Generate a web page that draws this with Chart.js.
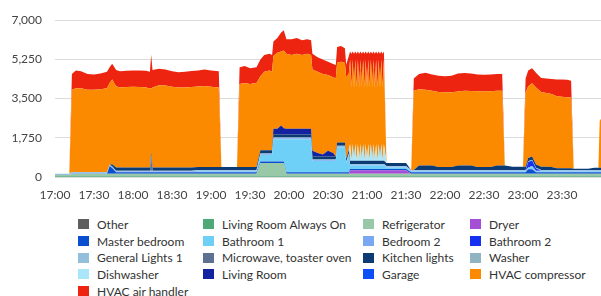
<!DOCTYPE html>
<html>
<head>
<meta charset="utf-8">
<script src="https://cdn.jsdelivr.net/npm/chart.js@4"></script>
<style>
  body { margin: 0; background: #fff; font-family: Lato, "Open Sans", sans-serif; }
  #wrap { position: relative; width: 601px; height: 296px; overflow: hidden; }
  #chartBox { position: absolute; left: 0; top: 0; width: 601px; height: 210px; }
  #legend { position: absolute; left: 78px; top: 216px; display: grid;
            grid-template-columns: 125px 160px 107px 120px; grid-auto-rows: 16.7px;
            font-size: 12px; color: #333; }
  #legend div { display: flex; align-items: center; white-space: nowrap; }
  #legend span.sw { display: inline-block; width: 11px; height: 10px; margin-right: 8px; }
  #warn { position: absolute; left: 200px; top: 100px; color: red; font-size: 20px; }
</style>
</head>
<body>
<div id="wrap">
  <div id="chartBox"><canvas id="myChart"></canvas></div>
  <div id="legend"></div>
  <div id="warn"></div>
</div>
<script>
// minutes after 17:00
const times = [
  0, 5, 11,
  13, 16, 20, 25, 30, 35, 40, 42, 44, 47, 50, 55, 60, 65, 70, 73, 74, 75, 80, 85, 90, 95, 100, 105, 110, 115, 120, 126,
  128, 134, 140,
  142, 146, 150, 155, 158, 161, 165, 167, 168, 171, 174, 176, 178, 182, 186, 190, 194, 197, 198, 202, 206, 210, 214, 216, 217, 220, 223, 224, 226,
  227, 228, 229, 230, 231, 232, 233, 234, 235, 236, 237, 238, 239, 240, 241, 242, 243, 244, 245, 246, 247, 248, 249, 250, 251, 252, 253,
  255, 260, 265, 270, 274,
  276, 280, 285, 290, 295, 300, 305, 310, 315, 320, 325, 330, 335, 340, 344,
  346, 352, 360,
  362, 364, 367, 370, 374, 378, 382, 386, 390, 394, 397,
  399, 405, 410, 415, 418, 419, 420
];

const tickMins = [0, 30, 60, 90, 120, 150, 180, 210, 240, 270, 300, 330, 360, 390];
const tickLabels = ['17:00', '17:30', '18:00', '18:30', '19:00', '19:30', '20:00', '20:30', '21:00', '21:30', '22:00', '22:30', '23:00', '23:30'];

const other = [
  0, 0, 0,
  0, 0, 0, 0, 0, 0, 0, 0, 0, 0, 0, 0, 0, 0, 0, 0, 0, 0, 0, 0, 0, 0, 0, 0, 0, 0, 0, 0,
  0, 0, 0,
  0, 0, 0, 0, 0, 0, 0, 0, 0, 0, 0, 0, 0, 0, 0, 0, 0, 0, 0, 0, 0, 0, 0, 0, 0, 0, 0, 0, 0,
  0, 0, 0, 0, 0, 0, 0, 0, 0, 0, 0, 0, 0, 0, 0, 0, 0, 0, 0, 0, 0, 0, 0, 0, 0, 0, 0,
  0, 0, 0, 0, 0,
  0, 0, 0, 0, 0, 0, 0, 0, 0, 0, 0, 0, 0, 0, 0,
  0, 0, 0,
  0, 0, 0, 0, 0, 0, 0, 0, 0, 0, 0,
  0, 0, 0, 0, 0, 0, 0
];
const livingAlwaysOn = [
  30, 30, 30,
  30, 30, 30, 30, 30, 30, 30, 30, 30, 30, 30, 30, 30, 30, 30, 30, 30, 30, 30, 30, 30, 30, 30, 30, 30, 30, 30, 30,
  30, 30, 30,
  30, 30, 30, 30, 30, 30, 30, 30, 30, 30, 30, 30, 30, 30, 30, 30, 30, 30, 30, 30, 30, 30, 30, 30, 30, 30, 30, 30, 30,
  30, 30, 30, 30, 30, 30, 30, 30, 30, 30, 30, 30, 30, 30, 30, 30, 30, 30, 30, 30, 30, 30, 30, 30, 30, 30, 30,
  30, 30, 30, 30, 30,
  30, 30, 30, 30, 30, 30, 30, 30, 30, 30, 30, 30, 30, 30, 30,
  30, 30, 30,
  30, 30, 30, 30, 30, 30, 30, 30, 30, 30, 30,
  30, 30, 30, 30, 30, 30, 30
];
const refrigerator = [
  60, 60, 60,
  120, 120, 120, 120, 120, 120, 120, 120, 120, 120, 120, 120, 120, 120, 120, 120, 120, 120, 120, 120, 120, 120, 120, 120, 120, 120, 120, 120,
  120, 120, 120,
  120, 120, 120, 120, 600, 600, 600, 600, 600, 600, 600, 600, 120, 120, 120, 120, 120, 120, 120, 120, 120, 120, 120, 120, 120, 120, 120, 120, 120,
  120, 120, 120, 120, 120, 120, 120, 120, 120, 120, 120, 120, 120, 120, 120, 120, 120, 120, 120, 120, 120, 120, 120, 120, 120, 120, 120,
  120, 120, 120, 120, 120,
  120, 120, 120, 120, 120, 120, 120, 120, 120, 120, 120, 120, 120, 120, 120,
  120, 120, 120,
  120, 120, 120, 120, 120, 120, 120, 120, 120, 120, 120,
  120, 120, 120, 120, 120, 120, 120
];
const dryer = [
  0, 0, 0,
  0, 0, 0, 0, 0, 0, 0, 0, 0, 0, 0, 0, 0, 0, 0, 0, 0, 0, 0, 0, 0, 0, 0, 0, 0, 0, 0, 0,
  0, 0, 0,
  0, 0, 0, 0, 0, 0, 0, 0, 0, 0, 0, 0, 0, 0, 0, 0, 0, 0, 0, 0, 0, 0, 0, 0, 0, 0, 0, 0, 0,
  150, 150, 150, 150, 150, 150, 150, 150, 150, 150, 150, 150, 150, 150, 150, 150, 150, 150, 150, 150, 150, 150, 150, 150, 150, 150, 150,
  150, 150, 150, 150, 0,
  0, 0, 0, 0, 0, 0, 0, 0, 0, 0, 0, 0, 0, 0, 0,
  0, 0, 0,
  0, 0, 0, 0, 0, 0, 0, 0, 0, 0, 0,
  0, 0, 0, 0, 0, 0, 0
];
const masterBedroom = [
  0, 0, 0,
  0, 0, 0, 0, 0, 0, 0, 330, 250, 60, 60, 60, 60, 60, 60, 60, 60, 60, 60, 60, 60, 60, 60, 60, 60, 60, 60, 60,
  60, 60, 60,
  60, 60, 60, 60, 60, 60, 60, 60, 60, 60, 60, 60, 60, 60, 60, 60, 60, 60, 60, 60, 60, 60, 60, 60, 60, 60, 60, 60, 60,
  60, 60, 60, 60, 60, 60, 60, 60, 60, 60, 60, 60, 60, 60, 60, 60, 60, 60, 60, 60, 60, 60, 60, 60, 60, 60, 60,
  60, 60, 60, 60, 60,
  60, 60, 60, 60, 60, 60, 60, 60, 60, 60, 60, 60, 60, 60, 60,
  60, 60, 60,
  60, 200, 200, 60, 60, 60, 60, 60, 60, 60, 60,
  60, 60, 60, 60, 60, 60, 60
];
const bathroom1 = [
  0, 0, 0,
  0, 0, 0, 0, 0, 0, 0, 0, 0, 0, 0, 0, 0, 0, 0, 0, 0, 0, 0, 0, 0, 0, 0, 0, 30, 30, 30, 30,
  30, 30, 30,
  30, 30, 30, 30, 290, 290, 290, 290, 1000, 1000, 1000, 1000, 1480, 1480, 1480, 1480, 1480, 1480, 500, 500, 500, 500, 500, 500, 1120, 1120, 1120, 400, 770,
  150, 150, 150, 150, 150, 150, 150, 150, 150, 150, 150, 150, 150, 150, 150, 150, 150, 150, 150, 150, 150, 150, 150, 150, 150, 150, 150,
  60, 60, 60, 60, 30,
  30, 30, 30, 30, 30, 30, 30, 30, 30, 30, 30, 30, 30, 30, 30,
  30, 30, 30,
  30, 30, 100, 30, 30, 30, 30, 30, 30, 30, 30,
  30, 30, 30, 30, 30, 30, 30
];
const bedroom2 = [
  0, 0, 0,
  40, 40, 40, 40, 40, 40, 40, 40, 40, 40, 40, 40, 40, 40, 40, 40, 40, 40, 40, 40, 40, 40, 40, 40, 40, 40, 40, 40,
  40, 40, 40,
  40, 40, 40, 40, 40, 40, 40, 40, 40, 40, 40, 40, 40, 40, 40, 40, 40, 40, 40, 40, 40, 40, 40, 40, 40, 40, 40, 40, 40,
  40, 40, 40, 40, 40, 40, 40, 40, 40, 40, 40, 40, 40, 40, 40, 40, 40, 40, 40, 40, 40, 40, 40, 40, 40, 40, 40,
  40, 40, 40, 40, 40,
  40, 40, 40, 40, 40, 40, 40, 40, 40, 40, 40, 40, 40, 40, 40,
  40, 40, 40,
  40, 40, 40, 40, 40, 40, 40, 40, 40, 40, 40,
  40, 40, 40, 40, 40, 40, 40
];
const bathroom2 = [
  0, 0, 0,
  0, 0, 0, 0, 0, 0, 0, 0, 0, 0, 0, 0, 0, 0, 0, 0, 0, 0, 0, 0, 0, 0, 0, 0, 0, 0, 0, 0,
  0, 0, 0,
  0, 0, 0, 0, 0, 0, 0, 0, 0, 0, 0, 0, 0, 0, 0, 0, 0, 0, 0, 0, 0, 0, 0, 0, 0, 0, 0, 0, 0,
  0, 0, 0, 0, 0, 0, 0, 0, 0, 0, 0, 0, 0, 0, 0, 0, 0, 0, 0, 0, 0, 0, 0, 0, 0, 0, 0,
  0, 0, 0, 0, 0,
  0, 0, 0, 0, 0, 0, 0, 0, 0, 0, 0, 0, 0, 0, 0,
  0, 0, 0,
  0, 250, 250, 100, 0, 0, 0, 0, 0, 0, 0,
  0, 0, 0, 0, 0, 0, 0
];
const generalLights1 = [
  60, 60, 60,
  30, 30, 30, 30, 30, 30, 30, 30, 30, 30, 30, 30, 30, 30, 30, 30, 30, 30, 30, 30, 30, 30, 30, 30, 30, 30, 30, 30,
  30, 30, 30,
  30, 30, 30, 30, 30, 30, 30, 30, 30, 30, 30, 30, 30, 30, 30, 30, 30, 30, 30, 30, 30, 30, 30, 30, 30, 30, 30, 30, 30,
  30, 30, 30, 30, 30, 30, 30, 30, 30, 30, 30, 30, 30, 30, 30, 30, 30, 30, 30, 30, 30, 30, 30, 30, 30, 30, 30,
  30, 30, 30, 30, 30,
  30, 30, 30, 30, 30, 30, 30, 30, 30, 30, 30, 30, 30, 30, 30,
  30, 30, 30,
  30, 30, 30, 30, 30, 30, 30, 30, 30, 30, 30,
  30, 30, 30, 30, 30, 30, 30
];
const microwave = [
  0, 0, 0,
  0, 0, 0, 0, 0, 0, 0, 0, 0, 0, 0, 0, 0, 0, 0, 0, 700, 0, 0, 0, 0, 0, 0, 0, 0, 0, 0, 0,
  0, 0, 0,
  0, 0, 0, 0, 0, 0, 0, 0, 0, 0, 0, 0, 0, 0, 0, 0, 0, 0, 0, 0, 0, 0, 0, 0, 0, 0, 0, 0, 0,
  0, 0, 0, 0, 0, 0, 0, 0, 0, 0, 0, 0, 0, 0, 0, 0, 0, 0, 0, 0, 0, 0, 0, 0, 0, 0, 0,
  0, 0, 0, 0, 0,
  0, 0, 0, 0, 0, 0, 0, 0, 0, 0, 0, 0, 0, 0, 0,
  0, 0, 0,
  0, 0, 0, 0, 0, 0, 0, 0, 0, 0, 0,
  0, 0, 0, 0, 0, 0, 0
];
const kitchenLights = [
  0, 0, 0,
  0, 0, 0, 0, 0, 0, 0, 0, 100, 140, 140, 140, 140, 140, 140, 140, 140, 140, 140, 140, 140, 140, 140, 140, 140, 140, 140, 140,
  140, 140, 140,
  140, 140, 140, 140, 140, 140, 140, 140, 140, 140, 140, 140, 140, 140, 140, 140, 140, 140, 140, 140, 140, 140, 140, 140, 140, 140, 140, 140, 140,
  140, 140, 140, 140, 140, 140, 140, 140, 140, 140, 140, 140, 140, 140, 140, 140, 140, 140, 140, 140, 140, 140, 140, 140, 140, 140, 140,
  140, 140, 140, 140, 0,
  0, 200, 200, 200, 140, 140, 140, 200, 200, 200, 140, 140, 140, 200, 200,
  200, 150, 150,
  150, 150, 150, 150, 150, 150, 140, 80, 80, 80, 80,
  60, 60, 60, 100, 100, 100, 100
];
const washer = [
  0, 0, 0,
  0, 0, 0, 0, 0, 0, 0, 0, 0, 0, 0, 0, 0, 0, 0, 0, 0, 0, 0, 0, 0, 0, 0, 0, 0, 0, 0, 0,
  0, 0, 0,
  0, 0, 0, 0, 0, 0, 0, 0, 0, 0, 0, 0, 0, 0, 0, 0, 0, 0, 0, 0, 0, 0, 0, 0, 0, 0, 0, 0, 0,
  0, 0, 0, 0, 0, 0, 0, 0, 0, 0, 0, 0, 0, 0, 0, 0, 0, 0, 0, 0, 0, 0, 0, 0, 0, 0, 0,
  0, 0, 0, 0, 0,
  0, 0, 0, 0, 0, 0, 0, 0, 0, 0, 0, 0, 0, 0, 0,
  0, 0, 0,
  0, 0, 0, 0, 0, 0, 0, 0, 0, 0, 0,
  0, 0, 0, 0, 0, 0, 0
];
const dishwasher = [
  0, 0, 0,
  0, 0, 0, 0, 0, 0, 0, 0, 0, 0, 0, 0, 0, 0, 0, 0, 0, 0, 0, 0, 0, 0, 0, 0, 0, 0, 0, 0,
  0, 0, 0,
  0, 0, 0, 0, 0, 0, 0, 0, 0, 0, 0, 0, 0, 0, 0, 0, 0, 0, 0, 0, 0, 0, 0, 0, 0, 0, 0, 0, 0,
  750, 0, 750, 0, 750, 0, 750, 0, 750, 0, 750, 0, 750, 0, 750, 0, 750, 0, 750, 0, 750, 0, 750, 0, 750, 0, 750,
  0, 0, 0, 0, 0,
  0, 0, 0, 0, 0, 0, 0, 0, 0, 0, 0, 0, 0, 0, 0,
  0, 0, 0,
  0, 0, 0, 0, 0, 0, 0, 0, 0, 0, 0,
  0, 0, 0, 0, 0, 0, 0
];
const livingRoom = [
  0, 0, 0,
  0, 0, 0, 0, 0, 0, 0, 0, 0, 0, 0, 0, 0, 0, 0, 0, 0, 0, 0, 0, 0, 0, 0, 0, 0, 0, 0, 0,
  0, 0, 0,
  0, 0, 0, 0, 0, 0, 0, 0, 250, 250, 400, 280, 250, 250, 250, 250, 250, 250, 250, 150, 80, 250, 150, 0, 0, 0, 0, 0, 0,
  0, 0, 0, 0, 0, 0, 0, 0, 0, 0, 0, 0, 0, 0, 0, 0, 0, 0, 0, 0, 0, 0, 0, 0, 0, 0, 0,
  0, 0, 0, 0, 0,
  0, 0, 0, 0, 0, 0, 0, 0, 0, 0, 0, 0, 0, 0, 0,
  0, 0, 0,
  0, 0, 0, 0, 0, 0, 0, 0, 0, 0, 0,
  0, 0, 0, 0, 0, 0, 0
];
const garage = [
  0, 0, 0,
  0, 0, 0, 0, 0, 0, 0, 0, 0, 0, 0, 0, 0, 0, 0, 0, 0, 0, 0, 0, 0, 0, 0, 0, 0, 0, 0, 0,
  0, 0, 0,
  0, 0, 0, 0, 0, 0, 0, 0, 0, 0, 0, 0, 0, 0, 0, 0, 0, 0, 0, 0, 0, 0, 0, 0, 0, 0, 0, 0, 0,
  0, 0, 0, 0, 0, 0, 0, 0, 0, 0, 0, 0, 0, 0, 0, 0, 0, 0, 0, 0, 0, 0, 0, 0, 0, 0, 0,
  0, 0, 0, 0, 0,
  0, 0, 0, 0, 0, 0, 0, 0, 0, 0, 0, 0, 0, 0, 0,
  0, 0, 0,
  0, 0, 0, 0, 0, 0, 0, 0, 0, 0, 0,
  0, 0, 0, 0, 0, 0, 0
];
const hvacCompressor = [
  0, 0, 0,
  3680, 3740, 3740, 3680, 3680, 3700, 3740, 3650, 3780, 3630, 3580, 3600, 3610, 3600, 3580, 3530, 2830, 3580, 3680, 3660, 3610, 3580, 3580, 3600, 3590, 3610, 3580, 3550,
  0, 0, 0,
  3700, 3750, 3700, 3750, 3310, 3510, 3560, 3510, 3250, 3400, 3300, 3470, 3350, 3300, 3350, 3300, 3350, 3300, 3630, 3630, 3600, 3380, 3380, 3480, 3560, 3610, 3560, 3630, 3410,
  3780, 3280, 3780, 3280, 3780, 3280, 3780, 3280, 3780, 3280, 3780, 3280, 3780, 3280, 3780, 3280, 3780, 3280, 3780, 3280, 3780, 3280, 3780, 3280, 3780, 3280, 3780,
  0, 0, 0, 0, 0,
  3540, 3410, 3390, 3340, 3350, 3330, 3330, 3310, 3340, 3330, 3380, 3370, 3380, 3340, 3340,
  0, 0, 0,
  3290, 3200, 3260, 3440, 3340, 3290, 3250, 3210, 3190, 3170, 3160,
  0, 0, 0, 0, 0, 2090, 2190
];
const hvacAirHandler = [
  0, 0, 0,
  700, 790, 760, 700, 680, 700, 740, 700, 710, 730, 720, 720, 730, 740, 740, 750, 1510, 780, 730, 720, 690, 680, 700, 710, 720, 740, 730, 720,
  0, 0, 0,
  750, 750, 700, 700, 750, 750, 750, 750, 650, 650, 850, 900, 650, 700, 700, 650, 650, 650, 700, 650, 650, 600, 600, 600, 700, 700, 650, 550, 800,
  350, 1500, 350, 1500, 350, 1500, 350, 1500, 350, 1500, 350, 1500, 350, 1500, 350, 1500, 350, 1500, 350, 1500, 350, 1500, 350, 1500, 350, 1500, 350,
  0, 0, 0, 0, 0,
  550, 680, 750, 730, 720, 720, 740, 800, 790, 780, 750, 740, 750, 750, 750,
  0, 0, 0,
  650, 700, 670, 650, 620, 650, 680, 750, 770, 780, 750,
  0, 0, 0, 0, 0, 0, 0
];

const seriesNames = ['Other', 'Living Room Always On', 'Refrigerator', 'Dryer',
  'Master bedroom', 'Bathroom 1', 'Bedroom 2', 'Bathroom 2',
  'General Lights 1', 'Microwave, toaster oven', 'Kitchen lights', 'Washer',
  'Dishwasher', 'Living Room', 'Garage', 'HVAC compressor', 'HVAC air handler'];
const seriesValues = [other, livingAlwaysOn, refrigerator, dryer,
  masterBedroom, bathroom1, bedroom2, bathroom2,
  generalLights1, microwave, kitchenLights, washer,
  dishwasher, livingRoom, garage, hvacCompressor, hvacAirHandler];
const seriesColors = ['#5f5f5f', '#4fa878', '#97c9a8', '#a44fd6',
  '#0a4fcf', '#6fd0f7', '#7aa7f2', '#1530f0',
  '#94bfdc', '#5e7192', '#0c3b73', '#90b4c2',
  '#a9e6fa', '#1222a0', '#0a4ff5', '#fb8a00', '#ec2410'];

// quick sanity check on lengths
var bad = [];
for (var i = 0; i < seriesValues.length; i++) {
  if (seriesValues[i].length != times.length) bad.push(seriesNames[i] + ' ' + seriesValues[i].length);
}
if (bad.length) document.getElementById('warn').textContent = times.length + ' / ' + bad.join(', ');

Chart.defaults.font.family = 'Lato';
Chart.defaults.font.size = 12;
Chart.defaults.color = '#444';

let datasets = seriesNames.map(function (name, i) {
  return {
    label: name,
    data: times.map((t, j) => ({ x: t, y: seriesValues[i][j] })),
    backgroundColor: seriesColors[i],
    borderColor: seriesColors[i],
    borderWidth: 0,
    pointRadius: 0,
    tension: 0,
    fill: i == 0 ? 'origin' : '-1'
  };
});

let myChart = new Chart(document.getElementById('myChart').getContext('2d'), {
  type: 'line',
  data: { datasets: datasets },
  options: {
    responsive: true,
    maintainAspectRatio: false,
    animation: false,
    layout: { padding: { top: 18, left: 0, right: 0, bottom: 0 } },
    plugins: { legend: { display: false }, tooltip: { enabled: false } },
    scales: {
      x: {
        type: 'linear',
        min: 0,
        max: 420,
        grid: { display: false, drawTicks: false },
        border: { display: false },
        afterBuildTicks: (s) => { s.ticks = tickMins.map(v => ({ value: v })); },
        afterFit: (s) => { s.height = 33; },
        ticks: {
          padding: 11,
          maxRotation: 0,
          autoSkip: false,
          callback: (v) => tickLabels[tickMins.indexOf(v)]
        }
      },
      y: {
        stacked: true,
        min: 0,
        max: 7000,
        grid: { color: '#dcdcdc', drawTicks: false },
        border: { display: false },
        afterFit: (s) => { s.width = 55; },
        ticks: {
          stepSize: 1750,
          padding: 13,
          callback: (v) => v.toLocaleString('en-US')
        }
      }
    }
  }
});

// legend grid under the chart
let legendBox = document.getElementById('legend');
seriesNames.forEach(function (name, i) {
  let item = document.createElement('div');
  let sw = document.createElement('span');
  sw.className = 'sw';
  sw.style.background = seriesColors[i];
  item.appendChild(sw);
  item.appendChild(document.createTextNode(name));
  legendBox.appendChild(item);
});
</script>
</body>
</html>
